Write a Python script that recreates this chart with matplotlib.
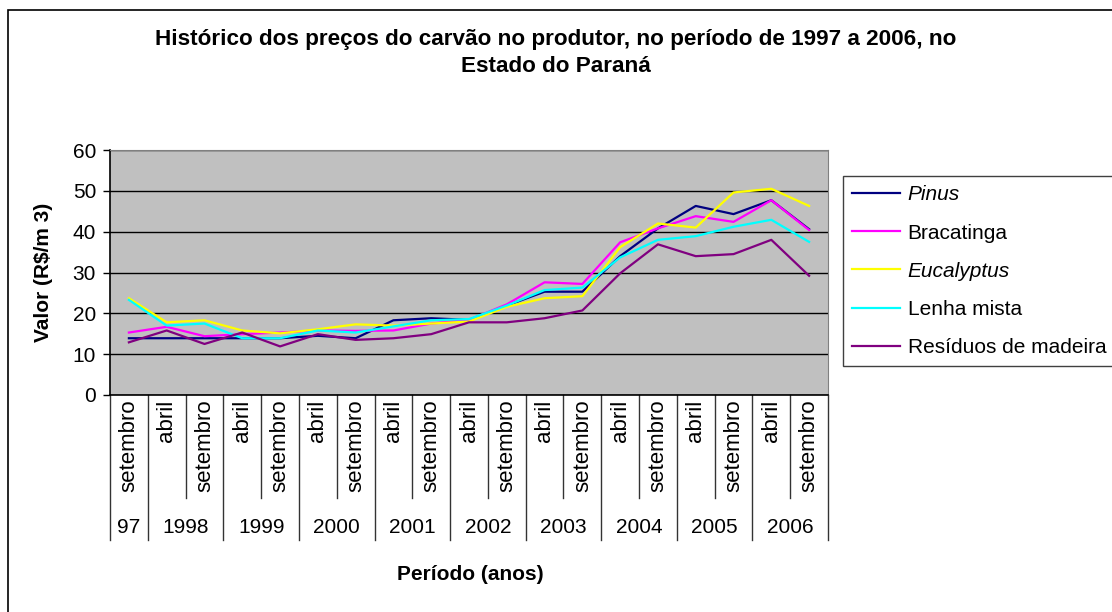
import matplotlib.pyplot as plt
from matplotlib.patches import Rectangle

plt.rcParams['font.family'] = ['Liberation Sans', 'DejaVu Sans']

# categorias (mes) e anos
meses = ['setembro'] + ['abril', 'setembro'] * 9
anos = ['97', '1998', '1999', '2000', '2001', '2002', '2003', '2004', '2005', '2006']
anos_n = [1, 2, 2, 2, 2, 2, 2, 2, 2, 2]

# valores (R$/m3)
pinus = [13.9, 13.9, 13.9, 13.9, 13.9, 14.5, 13.9, 18.3, 18.8, 18.4,
         21.9, 25.3, 25.3, 34.0, 40.8, 46.3, 44.3, 47.7, 40.6]
bracatinga = [15.3, 16.7, 14.4, 14.9, 15.3, 15.8, 15.7, 15.8, 17.5, 18.4,
              22.2, 27.6, 27.2, 37.4, 40.8, 43.8, 42.4, 47.7, 40.4]
eucalyptus = [23.7, 17.8, 18.3, 15.8, 15.1, 16.1, 17.3, 17.0, 17.5, 18.0,
              21.6, 23.7, 24.2, 36.2, 42.0, 41.0, 49.6, 50.5, 46.3]
lenha = [23.3, 17.0, 17.5, 13.9, 13.9, 15.8, 15.3, 16.8, 18.3, 18.6,
         21.9, 25.7, 26.3, 33.7, 38.0, 38.9, 41.2, 42.9, 37.5]
residuos = [12.9, 15.8, 12.5, 15.3, 11.9, 14.9, 13.5, 13.9, 14.9, 17.8,
            17.8, 18.8, 20.7, 29.8, 36.9, 34.0, 34.5, 38.0, 29.2]

fig = plt.figure(figsize=(11.12, 6.12), dpi=100)
fig.patch.set_facecolor('white')
fig.patches.append(Rectangle((8 / 1112, -0.1), 1.1, 1.1 - 10 / 612, transform=fig.transFigure,
                             fill=False, edgecolor='black', linewidth=1.2, figure=fig))

ax = fig.add_axes([110 / 1112, 1 - 395 / 612, 718 / 1112, 245 / 612])
ax.set_facecolor('#C0C0C0')

x = list(range(len(meses)))
ax.plot(x, pinus, color='#000080', lw=1.6, label='Pinus')
ax.plot(x, bracatinga, color='#FF00FF', lw=1.6, label='Bracatinga')
ax.plot(x, eucalyptus, color='#FFFF00', lw=1.6, label='Eucalyptus')
ax.plot(x, lenha, color='#00FFFF', lw=1.6, label='Lenha mista')
ax.plot(x, residuos, color='#800080', lw=1.6, label='Resíduos de madeira')

ax.set_xlim(-0.5, len(meses) - 0.5)
ax.set_ylim(0, 60)
ax.set_yticks(range(0, 61, 10))
ax.yaxis.grid(True, color='black', lw=1)
ax.set_axisbelow(True)
ax.tick_params(axis='y', labelsize=15, length=5, width=1, pad=5)
ax.set_xticks([k - 0.5 for k in range(len(meses) + 1)])
ax.set_xticklabels([])
ax.tick_params(axis='x', length=0)
for s in ['top', 'right']:
    ax.spines[s].set_color('#808080')
for s in ['left', 'bottom']:
    ax.spines[s].set_color('black')
    ax.spines[s].set_linewidth(1.2)

# eixo de categorias em dois niveis
tr = ax.get_xaxis_transform()
for i, m in enumerate(meses):
    ax.text(i, -0.018, m, transform=tr, rotation=90, ha='center', va='top', fontsize=16)
pos = -0.5
limites = [pos]
for a, n in zip(anos, anos_n):
    ax.text(pos + n / 2, -0.54, a, transform=tr, ha='center', va='center', fontsize=15)
    pos += n
    limites.append(pos)
for k in range(len(meses) + 1):
    b = k - 0.5
    y1 = -0.592 if b in limites else -0.42
    ax.plot([b, b], [0, y1], transform=tr, color='#333333', lw=1, clip_on=False)

ax.set_ylabel('Valor (R$/m 3)', fontsize=15, fontweight='bold', labelpad=14)
fig.text(470 / 1112, 1 - 575 / 612, 'Período (anos)', ha='center', va='center',
         fontsize=15, fontweight='bold')
fig.text(556 / 1112, 1 - 39 / 612,
         'Histórico dos preços do carvão no produtor, no período de 1997 a 2006, no',
         ha='center', va='center', fontsize=16.2, fontweight='bold')
fig.text(556 / 1112, 1 - 66 / 612, 'Estado do Paraná', ha='center', va='center',
         fontsize=16.2, fontweight='bold')

leg = ax.legend(loc='upper left', bbox_to_anchor=(843 / 1112, 1 - 368 / 612, 0.3, 192 / 612),
                bbox_transform=fig.transFigure, mode='expand', borderaxespad=0,
                fancybox=False, edgecolor='#404040', fontsize=15, handlelength=2.3,
                labelspacing=0.92, borderpad=0.45, handletextpad=0.35, framealpha=1)
leg.get_frame().set_linewidth(1)
for t in leg.get_texts():
    if t.get_text() in ('Pinus', 'Eucalyptus'):
        t.set_fontstyle('italic')

fig.savefig('out.png', dpi=100)
